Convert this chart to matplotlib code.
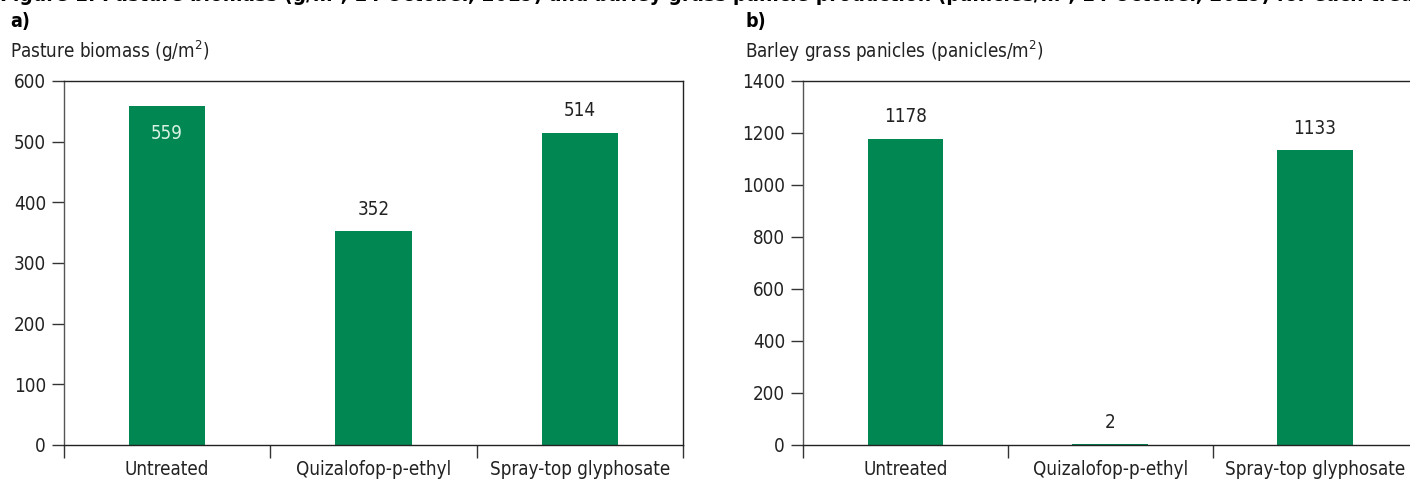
import matplotlib
matplotlib.use('Agg')
import matplotlib.pyplot as plt

plt.rcParams['font.family'] = ['DejaVu Sans']
plt.rcParams['font.stretch'] = 'condensed'

# data
treatments = ['Untreated', 'Quizalofop-p-ethyl', 'Spray-top glyphosate']
biomass = [559, 352, 514]
panicles = [1178, 2, 1133]
biomass_ticks = [0, 100, 200, 300, 400, 500, 600]
panicle_ticks = [0, 200, 400, 600, 800, 1000, 1200, 1400]

GREEN = '#008752'
W, H = 1410, 479

fig = plt.figure(figsize=(W / 100, H / 100), dpi=100)

# cut-off figure title at the very top
fig.text(0, 1 - 1 / H, 'Figure 1: Pasture biomass (g/m², 14 October, 2019) and barley grass panicle '
         'production (panicles/m², 14 October, 2019) for each treatment at the trial site',
         fontsize=15, fontweight='bold', va='baseline', ha='left')


def draw_panel(rect, values, ticks, letter, ylabel, inside_first):
    ax = fig.add_axes(rect)
    x = range(len(values))
    ax.bar(x, values, width=0.37, color=GREEN, zorder=2)
    ax.set_xlim(-0.5, 2.5)
    ax.set_ylim(ticks[0], ticks[-1])
    ax.set_yticks(ticks)
    ax.set_xticks([-0.5, 0.5, 1.5, 2.5])
    ax.set_xticklabels([])
    ax.tick_params(axis='y', length=9, width=1, labelsize=13.5, pad=4, color='#333333',
                   labelcolor='#222222')
    ax.tick_params(axis='x', length=9, width=1, color='#333333')
    for s in ax.spines.values():
        s.set_linewidth(1)
        s.set_color('#222222')
    ax.spines['left'].set_color('#555555')

    # category labels (partly cut at the bottom, as in the source)
    for i, name in enumerate(treatments):
        ax.annotate(name, xy=(i, 0), xycoords=('data', 'axes fraction'),
                    xytext=(0, -11), textcoords='offset points',
                    ha='center', va='top', fontsize=13.5, color='#222222')

    # value labels
    for i, v in enumerate(values):
        if inside_first and i == 0:
            ax.annotate(str(v), xy=(i, v), xytext=(0, -20), textcoords='offset points',
                        ha='center', va='center', fontsize=13.5, color='#d9f2e3')
        else:
            ax.annotate(str(v), xy=(i, v), xytext=(0, 16), textcoords='offset points',
                        ha='center', va='center', fontsize=13.5, color='#222222')

    # panel letter + y axis title
    tx = rect[0] - (54 if letter == 'a)' else 58) / W
    fig.text(tx, 1 - 27 / H, letter, fontsize=14, fontweight='bold', va='baseline', ha='left')
    fig.text(tx, 1 - 58 / H, ylabel, fontsize=13.5, va='baseline', ha='left', color='#222222')
    return ax


bottom = (H - 445) / H
height = (445 - 81) / H
draw_panel([64 / W, bottom, (683 - 64) / W, height], biomass, biomass_ticks,
           'a)', 'Pasture biomass (g/m$^2$)', True)
draw_panel([803 / W, bottom, 614.5 / W, height], panicles, panicle_ticks,
           'b)', 'Barley grass panicles (panicles/m$^2$)', False)

fig.savefig('out.png', dpi=100)
